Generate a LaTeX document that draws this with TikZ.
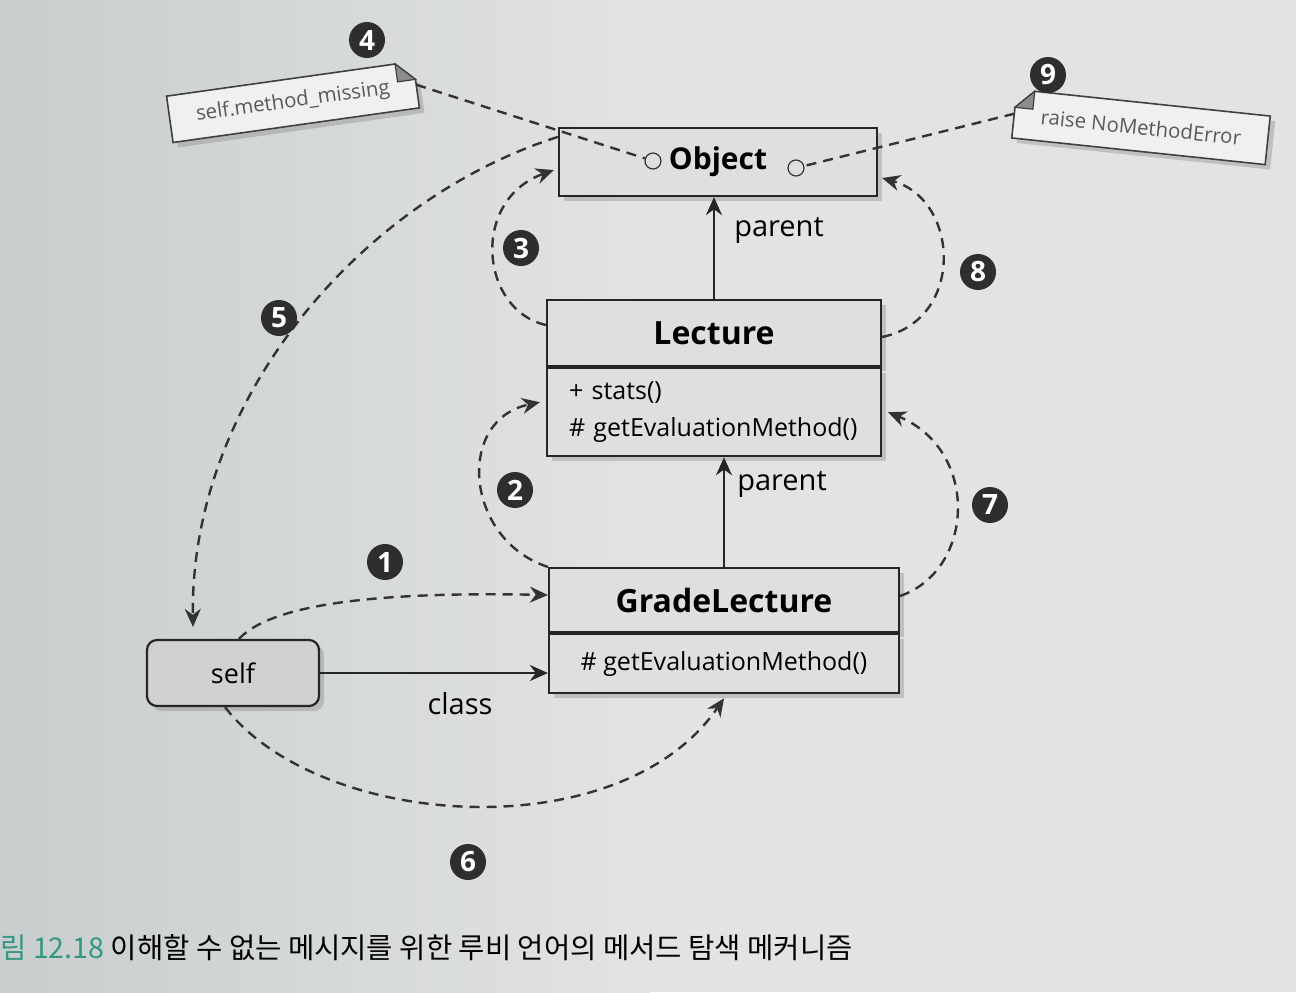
\documentclass[tikz,border=0pt]{standalone}
\usepackage{fontspec}
\setmainfont{Open Sans}
\newfontfamily\krfont{Noto Sans CJK KR}
\usetikzlibrary{arrows.meta,shadows,calc}

\definecolor{paper}{RGB}{226,228,227}
\definecolor{paperdark}{RGB}{200,205,205}
\definecolor{boxfill}{RGB}{222,223,222}
\definecolor{capteal}{RGB}{52,150,132}

\tikzset{
  boxshadow/.style={drop shadow={shadow xshift=2.5pt,shadow yshift=-2.5pt,opacity=0.35}},
  classhead/.style={draw=black!85, line width=1.1pt, fill=boxfill, boxshadow, inner sep=0pt,
    font=\bfseries\fontsize{16}{18}\selectfont},
  classbody/.style={draw=black!85, line width=1.1pt, fill=boxfill, boxshadow, inner sep=0pt,
    font=\fontsize{12.5}{18.5}\selectfont},
  objcircle/.style={circle, draw=black!80, line width=0.6pt, fill=boxfill, inner sep=0pt, minimum size=8pt},
  selfbox/.style={draw=black!85, line width=1.1pt, fill=black!18, rounded corners=5pt, boxshadow,
    minimum width=86pt, minimum height=33pt, font=\fontsize{13.5}{16}\selectfont},
  numbadge/.style={circle, fill=black!82, text=white, inner sep=0pt, minimum size=18pt,
    font=\bfseries\fontsize{14}{14}\selectfont},
  notetext/.style={inner sep=0pt, minimum width=124pt, minimum height=23pt, text=black!65,
    font=\fontsize{10.2}{12}\selectfont},
  noteshape/.style={draw=black!75, line width=0.8pt, fill=black!6, boxshadow},
  solidarrow/.style={draw=black!85, line width=1.2pt, -{Stealth[length=9pt,width=8pt]}},
  dasharrow/.style={draw=black!80, line width=1.2pt, dash pattern=on 5pt off 3.5pt, -{Stealth[length=9pt,width=8pt]}},
  dashline/.style={draw=black!80, line width=1.2pt, dash pattern=on 5pt off 3.5pt},
  edgelabel/.style={font=\fontsize{14.5}{17}\selectfont},
}

\begin{document}
\begin{tikzpicture}[x=0.5pt,y=-0.5pt]
\useasboundingbox (0,0) rectangle (1296,992);
\shade[left color=paperdark, right color=paper] (0,0) rectangle (650,992);
\fill[paper] (649,0) rectangle (1296,992);

% classes
\node[classhead, minimum width=159pt, minimum height=34pt, font=\bfseries\fontsize{15}{18}\selectfont]
  (objbox) at (718,162) {Object};
\node[objcircle] (objL) at (653,161) {};
\node[objcircle] (objR) at (796,168) {};

\node[classhead, minimum width=167pt, minimum height=33pt] (lecH) at (714,333) {Lecture};
\node[classbody, anchor=north, text width=145pt, inner xsep=11pt, minimum height=44pt, align=left]
  (lecB) at (lecH.south) {+ stats()\\\# getEvaluationMethod()};

\node[classhead, minimum width=175pt, minimum height=32pt] (gleH) at (724,600) {GradeLecture};
\node[classbody, anchor=north, minimum width=175pt, minimum height=29.5pt]
  (gleB) at (gleH.south) {\# getEvaluationMethod()};

\node[selfbox] (self) at (233,673) {self};

% notes
\node[notetext, rotate=8] (note1) at (293,102) {self.method\_missing};
\coordinate (n1a) at ($(note1.north east)!9pt!(note1.north west)$);
\coordinate (n1b) at ($(note1.north east)!9pt!(note1.south east)$);
\filldraw[noteshape] (note1.north west) -- (n1a) -- (n1b) -- (note1.south east) -- (note1.south west) -- cycle;
\filldraw[black!45, draw=black!75, line width=0.6pt] (n1a) -- ($(n1a)+(n1b)-(note1.north east)$) -- (n1b) -- cycle;
\node[notetext, rotate=8] at (note1) {self.method\_missing};

\node[notetext, rotate=-6, minimum width=127pt, minimum height=24pt] (note2) at (1141,127) {raise NoMethodError};
\coordinate (n2a) at ($(note2.north west)!9pt!(note2.north east)$);
\coordinate (n2b) at ($(note2.north west)!9pt!(note2.south west)$);
\filldraw[noteshape] (n2a) -- (note2.north east) -- (note2.south east) -- (note2.south west) -- (n2b) -- cycle;
\filldraw[black!45, draw=black!75, line width=0.6pt] (n2a) -- ($(n2a)+(n2b)-(note2.north west)$) -- (n2b) -- cycle;
\node[notetext, rotate=-6, minimum width=127pt, minimum height=24pt] at (note2) {raise NoMethodError};

% parent and class links
\draw[solidarrow] (lecH.north) -- (lecH.north |- objbox.south);
\draw[solidarrow] (gleH.north) -- (gleH.north |- lecB.south);
\draw[solidarrow] (self.east) -- (self.east -| gleB.west);
\node[edgelabel] (par1) at (779,230) {parent};
\node[edgelabel] (par2) at (782,484) {parent};
\node[edgelabel] (cls) at (460,704) {class};

% lookup path
\draw[dasharrow] ([xshift=3pt]self.north) .. controls (275,600) and (400,592) .. ([yshift=2.5pt]gleH.west);
\draw[dasharrow] (gleH.north west) .. controls (465,540) and (455,420) .. ([xshift=-3pt,yshift=5pt]lecB.west);
\draw[dasharrow] ([yshift=4pt]lecH.west) .. controls (480,310) and (470,200) .. ([xshift=-2pt,yshift=-4pt]objbox.west);
\draw[dashline] (note1.east) -- (objL);
\draw[dasharrow] ([yshift=-5pt]objbox.north west) .. controls (360,200) and (190,400) .. ([xshift=-20pt,yshift=6pt]self.north);
\draw[dasharrow] ([xshift=-4pt]self.south) .. controls (320,830) and (620,850) .. ([yshift=-2pt]gleB.south);
\draw[dasharrow] ([yshift=2pt]gleH.east) .. controls (975,570) and (980,450) .. ([xshift=3pt]lecB.east);
\draw[dasharrow] ([yshift=-2pt]lecH.east) .. controls (965,320) and (960,200) .. ([xshift=2pt,yshift=-8pt]objbox.east);
\draw[dashline] (note2.west) -- (objR);

% step numbers
\node[numbadge] (s1) at (385,562) {1};
\node[numbadge] (s2) at (515,490) {2};
\node[numbadge] (s3) at (521,248) {3};
\node[numbadge] (s4) at (367,40) {4};
\node[numbadge] (s5) at (279,318) {5};
\node[numbadge] (s6) at (468,862) {6};
\node[numbadge] (s7) at (990,505) {7};
\node[numbadge] (s8) at (978,272) {8};
\node[numbadge] (s9) at (1048,75) {9};

% caption
\node[anchor=west, inner sep=0pt, font=\krfont\fontsize{14.3}{18}\selectfont] (cap) at (0,948)
  {\textcolor{capteal}{림 12.18} 이해할 수 없는 메시지를 위한 루비 언어의 메서드 탐색 메커니즘};
\end{tikzpicture}
\end{document}
